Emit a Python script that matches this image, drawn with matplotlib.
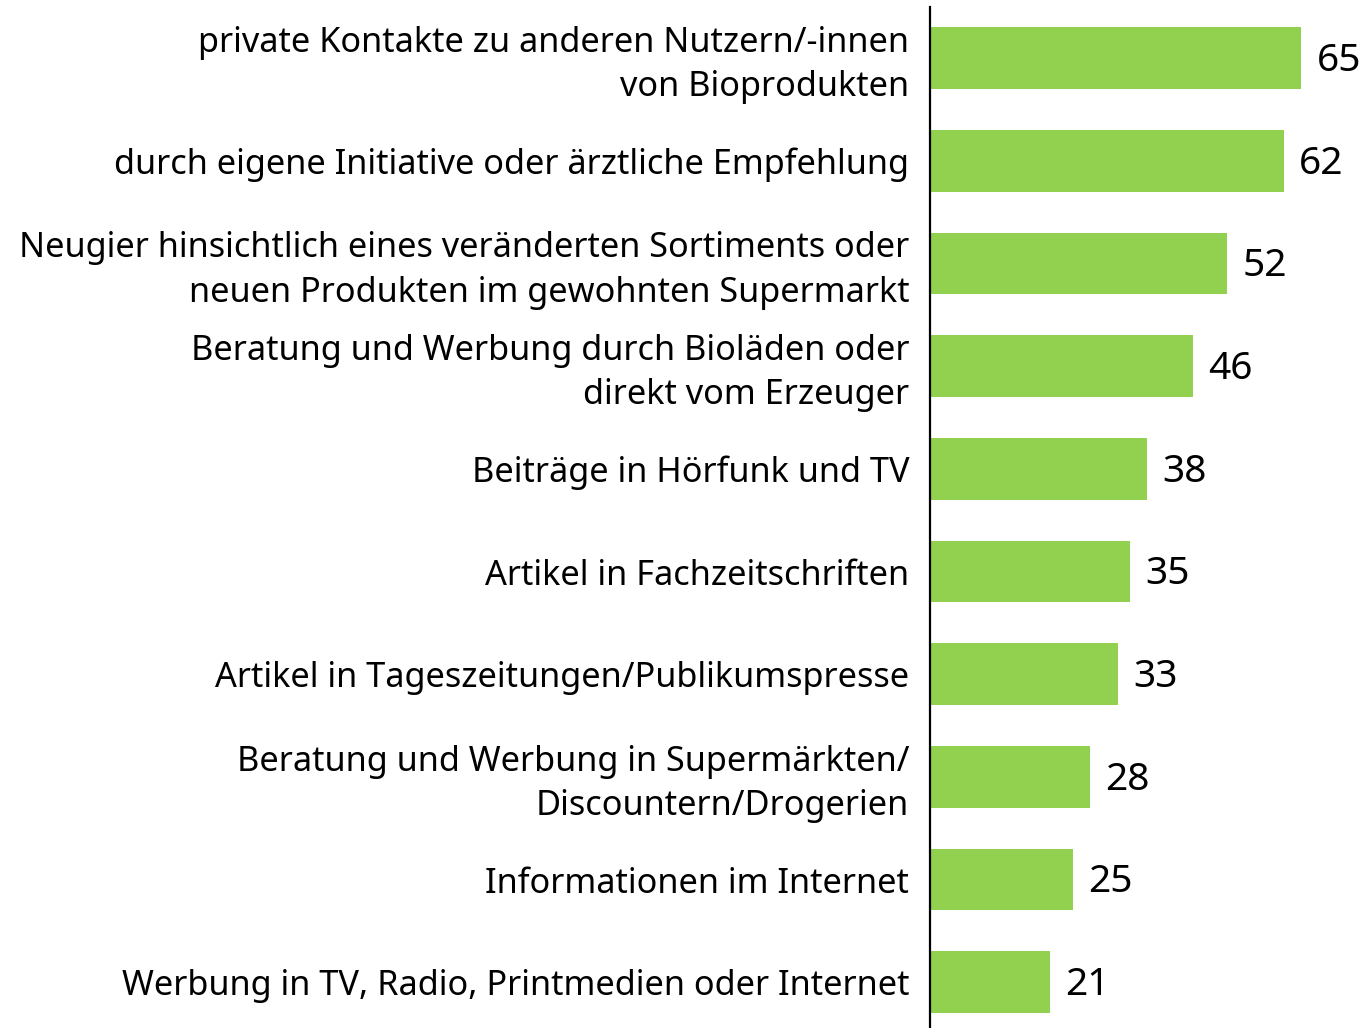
import matplotlib
matplotlib.use("Agg")
import matplotlib.pyplot as plt

plt.rcParams['font.family'] = ['Noto Sans', 'DejaVu Sans']

categories = [
    "private Kontakte zu anderen Nutzern/-innen\nvon Bioprodukten",
    "durch eigene Initiative oder ärztliche Empfehlung",
    "Neugier hinsichtlich eines veränderten Sortiments oder\nneuen Produkten im gewohnten Supermarkt",
    "Beratung und Werbung durch Bioläden oder\ndirekt vom Erzeuger",
    "Beiträge in Hörfunk und TV",
    "Artikel in Fachzeitschriften",
    "Artikel in Tageszeitungen/Publikumspresse",
    "Beratung und Werbung in Supermärkten/\nDiscountern/Drogerien",
    "Informationen im Internet",
    "Werbung in TV, Radio, Printmedien oder Internet",
]
values = [65, 62, 52, 46, 38, 35, 33, 28, 25, 21]

green = "#92D050"

fig = plt.figure(figsize=(13.65, 10.28), dpi=100)
ax = fig.add_axes([930 / 1365, 0, 1 - 930 / 1365, 1 - 7 / 1028])

pos = list(range(len(values)))
ax.barh(pos, values, height=0.6, color=green)

ax.set_xlim(0, 435 / 5.71)
ax.set_ylim(9.445, -0.497)

for spine in ["top", "right", "bottom"]:
    ax.spines[spine].set_visible(False)
ax.spines["left"].set_linewidth(1.6)
ax.set_xticks([])
ax.set_yticks([])

for p, v, lab in zip(pos, values, categories):
    ax.annotate(str(v), (v, p), xytext=(11, -2), textcoords="offset points",
                ha="left", va="center", fontsize=28)
    dy = -5 if "\n" in lab else -3
    ax.annotate(lab, (0, p), xytext=(-15, dy), textcoords="offset points",
                ha="right", va="center", fontsize=24.7, linespacing=1.4,
                multialignment="right", annotation_clip=False)

fig.savefig("out.png", dpi=100)
